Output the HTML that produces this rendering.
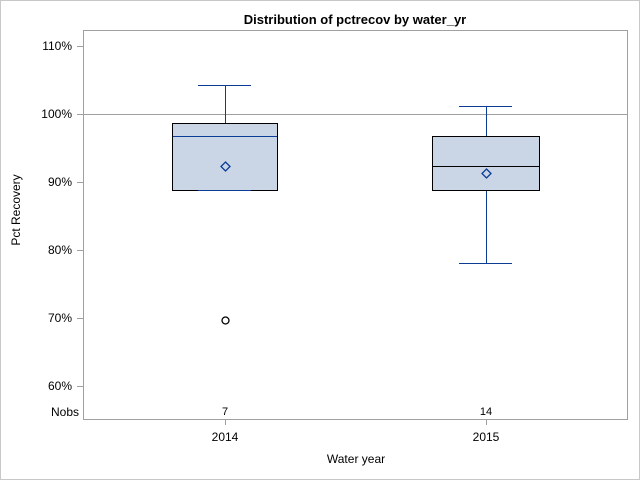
<!DOCTYPE html>
<html><head><style>body{margin:0;background:#fff}</style></head><body>
<svg width="640" height="480" xmlns="http://www.w3.org/2000/svg" font-family="Liberation Sans, Arial, sans-serif">
<rect x="0.5" y="0.5" width="639" height="479" fill="#fff" stroke="#c8c8c8"/>
<text x="355" y="24" font-size="13" font-weight="bold" text-anchor="middle" fill="#000">Distribution of pctrecov by water_yr</text>
<rect x="83.5" y="30.5" width="544" height="389" fill="none" stroke="#a0a0a0"/>
<line x1="84" y1="114.5" x2="627" y2="114.5" stroke="#a0a0a0"/>
<g font-size="12" fill="#000" text-anchor="end">
<text x="72" y="50">110%</text><text x="72" y="118">100%</text><text x="72" y="186">90%</text>
<text x="72" y="254">80%</text><text x="72" y="322">70%</text><text x="72" y="390">60%</text>
<text x="79" y="416">Nobs</text>
</g>
<g stroke="#a0a0a0"><line x1="77" y1="46.5" x2="83" y2="46.5"/><line x1="77" y1="114.5" x2="83" y2="114.5"/><line x1="77" y1="182.5" x2="83" y2="182.5"/><line x1="77" y1="250.5" x2="83" y2="250.5"/><line x1="77" y1="318.5" x2="83" y2="318.5"/><line x1="77" y1="386.5" x2="83" y2="386.5"/>
<line x1="225.5" y1="420" x2="225.5" y2="425"/><line x1="486.5" y1="420" x2="486.5" y2="425"/></g>
<text x="20" y="210" font-size="12" text-anchor="middle" transform="rotate(-90 20 210)">Pct Recovery</text>
<text x="356" y="463" font-size="12" text-anchor="middle">Water year</text>
<g font-size="12" text-anchor="middle"><text x="225" y="441">2014</text><text x="486" y="441">2015</text></g>
<g font-size="11" text-anchor="middle"><text x="225" y="415">7</text><text x="486" y="415">14</text></g>
<g stroke="#0b3c96" fill="none">
<line x1="198" y1="85.5" x2="251" y2="85.5"/><line x1="225.5" y1="85" x2="225.5" y2="123"/>
<line x1="459" y1="106.5" x2="512" y2="106.5"/><line x1="486.5" y1="106" x2="486.5" y2="136"/>
<line x1="486.5" y1="190" x2="486.5" y2="263"/><line x1="459" y1="263.5" x2="512" y2="263.5"/>
</g>
<rect x="172.5" y="123.5" width="105" height="67" fill="#cad5e5" stroke="#000"/>
<line x1="173" y1="136.5" x2="277" y2="136.5" stroke="#0b3c96"/>
<line x1="198" y1="190.5" x2="251" y2="190.5" stroke="#0b3c96"/>
<rect x="432.5" y="136.5" width="107" height="54" fill="#cad5e5" stroke="#000"/>
<line x1="433" y1="166.5" x2="539" y2="166.5" stroke="#000"/>
<path d="M225.5 162 L230 166.5 L225.5 171 L221 166.5 Z" fill="none" stroke="#0b3c96" stroke-width="1.3"/>
<path d="M486.5 169 L491 173.5 L486.5 178 L482 173.5 Z" fill="none" stroke="#0b3c96" stroke-width="1.3"/>
<circle cx="225.5" cy="320.5" r="3.5" fill="none" stroke="#000" stroke-width="1.3"/>
</svg>
</body></html>
